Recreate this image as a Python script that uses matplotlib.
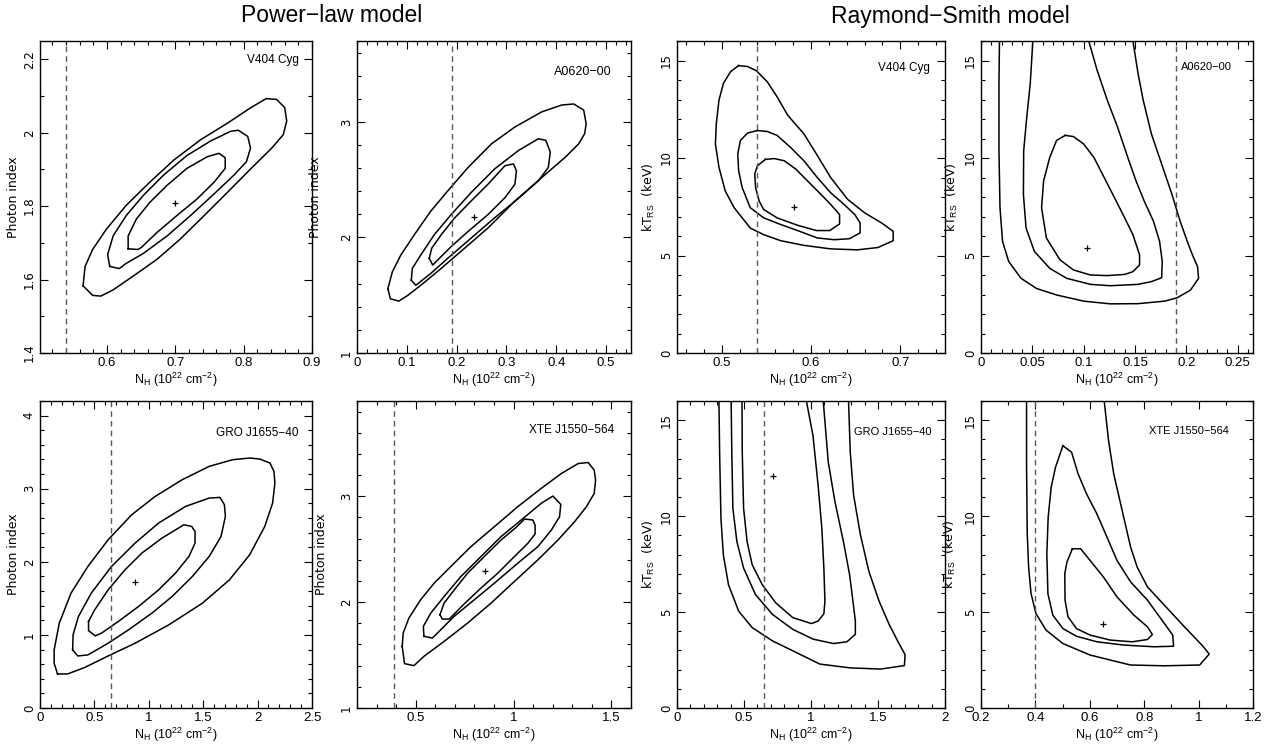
import numpy as np
import matplotlib
matplotlib.use("Agg")
import matplotlib.pyplot as plt
from matplotlib.ticker import MultipleLocator, FuncFormatter

SANS = ["Liberation Sans", "DejaVu Sans"]
plt.rcParams["mathtext.fontset"] = "custom"
plt.rcParams["mathtext.rm"] = "Liberation Sans"
plt.rcParams["mathtext.it"] = "Liberation Sans"

# ---- power-law panels (N_H, photon index) ----
v404_pl_best = (0.70, 1.81)
v404_pl_nh_gal = 0.54
v404_pl_c68_x = [0.631, 0.631, 0.643, 0.663, 0.688, 0.717, 0.747, 0.764, 0.773, 0.773, 0.757, 0.732, 0.702, 0.673, 0.650, 0.645]
v404_pl_c68_y = [1.684, 1.719, 1.765, 1.811, 1.857, 1.903, 1.935, 1.944, 1.932, 1.903, 1.866, 1.820, 1.774, 1.728, 1.687, 1.682]
v404_pl_c90_x = [0.604, 0.601, 0.609, 0.628, 0.653, 0.683, 0.717, 0.752, 0.781, 0.792, 0.806, 0.810, 0.804, 0.786, 0.757, 0.722, 0.688, 0.653, 0.628, 0.618]
v404_pl_c90_y = [1.636, 1.668, 1.719, 1.774, 1.829, 1.885, 1.938, 1.978, 2.004, 2.007, 1.990, 1.958, 1.921, 1.885, 1.834, 1.774, 1.719, 1.671, 1.644, 1.630]
v404_pl_c99_x = [0.565, 0.568, 0.579, 0.599, 0.628, 0.663, 0.698, 0.737, 0.777, 0.811, 0.833, 0.848, 0.860, 0.863, 0.858, 0.841, 0.811, 0.777, 0.742, 0.707, 0.673, 0.638, 0.609, 0.591, 0.579]
v404_pl_c99_y = [1.583, 1.636, 1.682, 1.737, 1.802, 1.866, 1.926, 1.981, 2.027, 2.069, 2.093, 2.091, 2.069, 2.032, 1.995, 1.958, 1.903, 1.839, 1.774, 1.710, 1.655, 1.609, 1.572, 1.555, 1.557]

a0620_pl_best = (0.234, 2.175)
a0620_pl_nh_gal = 0.19
a0620_pl_c68_x = [0.145, 0.150, 0.169, 0.196, 0.229, 0.263, 0.297, 0.314, 0.320, 0.317, 0.297, 0.263, 0.223, 0.189, 0.162, 0.152]
a0620_pl_c68_y = [1.819, 1.907, 2.023, 2.169, 2.315, 2.461, 2.621, 2.636, 2.577, 2.461, 2.344, 2.198, 2.052, 1.921, 1.805, 1.761]
a0620_pl_c90_x = [0.109, 0.111, 0.128, 0.155, 0.189, 0.229, 0.276, 0.324, 0.364, 0.379, 0.388, 0.384, 0.364, 0.324, 0.276, 0.229, 0.182, 0.148, 0.118]
a0620_pl_c90_y = [1.630, 1.732, 1.848, 2.023, 2.198, 2.388, 2.592, 2.752, 2.854, 2.840, 2.738, 2.606, 2.490, 2.338, 2.169, 1.994, 1.819, 1.688, 1.586]
a0620_pl_c99_x = [0.062, 0.071, 0.088, 0.115, 0.148, 0.182, 0.223, 0.270, 0.317, 0.371, 0.411, 0.435, 0.455, 0.460, 0.457, 0.445, 0.418, 0.371, 0.317, 0.263, 0.216, 0.169, 0.128, 0.102, 0.084, 0.067]
a0620_pl_c99_y = [1.557, 1.703, 1.848, 2.023, 2.227, 2.402, 2.606, 2.810, 2.956, 3.087, 3.146, 3.155, 3.102, 2.985, 2.898, 2.810, 2.694, 2.519, 2.315, 2.082, 1.907, 1.732, 1.586, 1.499, 1.449, 1.469]

gro_pl_best = (0.874, 1.717)
gro_pl_nh_gal = 0.65
gro_pl_c68_x = [0.446, 0.502, 0.626, 0.781, 0.936, 1.121, 1.323, 1.394, 1.425, 1.425, 1.369, 1.245, 1.090, 0.905, 0.719, 0.564, 0.508, 0.446]
gro_pl_c68_y = [1.183, 1.342, 1.616, 1.890, 2.119, 2.324, 2.507, 2.484, 2.416, 2.256, 2.073, 1.845, 1.616, 1.388, 1.183, 1.023, 0.986, 1.059]
gro_pl_c90_x = [0.300, 0.304, 0.353, 0.471, 0.657, 0.874, 1.090, 1.338, 1.555, 1.654, 1.695, 1.704, 1.664, 1.555, 1.400, 1.214, 1.028, 0.812, 0.626, 0.440, 0.347]
gro_pl_c90_y = [0.795, 1.000, 1.251, 1.571, 1.936, 2.256, 2.530, 2.758, 2.872, 2.881, 2.781, 2.621, 2.347, 2.073, 1.799, 1.525, 1.297, 1.068, 0.886, 0.726, 0.712]
gro_pl_c99_x = [0.161, 0.254, 0.409, 0.626, 0.874, 1.183, 1.493, 1.741, 1.927, 2.066, 2.138, 2.159, 2.150, 2.113, 2.020, 1.927, 1.772, 1.555, 1.307, 1.059, 0.843, 0.626, 0.440, 0.285, 0.177, 0.130, 0.130]
gro_pl_c99_y = [0.466, 0.466, 0.553, 0.712, 0.886, 1.137, 1.434, 1.753, 2.096, 2.484, 2.804, 3.078, 3.237, 3.352, 3.406, 3.420, 3.397, 3.306, 3.123, 2.895, 2.644, 2.301, 1.936, 1.571, 1.160, 0.795, 0.612]

xte_pl_best = (0.854, 2.295)
xte_pl_nh_gal = 0.39
xte_pl_c68_x = [0.624, 0.645, 0.697, 0.765, 0.850, 0.936, 1.013, 1.056, 1.098, 1.110, 1.110, 1.073, 1.004, 0.919, 0.833, 0.748, 0.671, 0.636]
xte_pl_c68_y = [1.881, 1.991, 2.116, 2.273, 2.430, 2.587, 2.706, 2.785, 2.776, 2.728, 2.644, 2.556, 2.430, 2.273, 2.132, 1.984, 1.840, 1.840]
xte_pl_c90_x = [0.542, 0.539, 0.577, 0.645, 0.731, 0.833, 0.936, 1.039, 1.141, 1.201, 1.241, 1.235, 1.193, 1.124, 1.021, 0.902, 0.799, 0.696, 0.611, 0.585]
xte_pl_c90_y = [1.677, 1.771, 1.896, 2.053, 2.242, 2.430, 2.619, 2.776, 2.933, 3.002, 2.923, 2.807, 2.681, 2.524, 2.367, 2.179, 2.022, 1.865, 1.708, 1.661]
xte_pl_c99_x = [0.431, 0.436, 0.465, 0.525, 0.594, 0.679, 0.782, 0.902, 1.021, 1.141, 1.244, 1.330, 1.381, 1.412, 1.419, 1.412, 1.372, 1.312, 1.227, 1.124, 1.004, 0.885, 0.765, 0.645, 0.542, 0.491, 0.443]
xte_pl_c99_y = [1.582, 1.708, 1.849, 2.022, 2.179, 2.336, 2.524, 2.713, 2.901, 3.074, 3.215, 3.309, 3.319, 3.247, 3.152, 3.027, 2.901, 2.760, 2.587, 2.399, 2.195, 1.991, 1.802, 1.629, 1.488, 1.400, 1.419]

# ---- Raymond-Smith panels (N_H, kT_RS) ----
v404_rs_best = (0.581, 7.5)
v404_rs_nh_gal = 0.54
v404_rs_c68_x = [0.549, 0.540, 0.537, 0.538, 0.542, 0.547, 0.562, 0.585, 0.606, 0.621, 0.632, 0.632, 0.622, 0.611, 0.596, 0.583, 0.570, 0.559]
v404_rs_c68_y = [9.93, 9.60, 9.17, 8.48, 7.79, 7.36, 6.93, 6.55, 6.28, 6.28, 6.62, 7.10, 7.62, 8.14, 8.83, 9.43, 9.86, 9.97]
v404_rs_c90_x = [0.540, 0.529, 0.521, 0.518, 0.519, 0.523, 0.532, 0.547, 0.566, 0.585, 0.607, 0.626, 0.643, 0.655, 0.655, 0.649, 0.637, 0.622, 0.607, 0.592, 0.577, 0.562, 0.551]
v404_rs_c90_y = [11.41, 11.28, 10.90, 10.21, 9.34, 8.48, 7.45, 6.93, 6.59, 6.28, 5.90, 5.81, 5.86, 6.16, 6.67, 7.10, 7.62, 8.22, 9.00, 9.86, 10.55, 11.16, 11.36]
v404_rs_c99_x = [0.519, 0.529, 0.539, 0.551, 0.562, 0.574, 0.592, 0.606, 0.622, 0.641, 0.660, 0.679, 0.692, 0.692, 0.675, 0.652, 0.622, 0.592, 0.566, 0.547, 0.532, 0.514, 0.504, 0.497, 0.493, 0.494, 0.497, 0.502, 0.510]
v404_rs_c99_y = [14.74, 14.69, 14.47, 13.91, 13.14, 12.19, 11.24, 10.21, 9.00, 7.88, 7.19, 6.67, 6.24, 5.76, 5.41, 5.29, 5.34, 5.52, 5.76, 6.07, 6.41, 7.45, 8.31, 9.52, 10.72, 11.76, 12.97, 13.83, 14.43]

a0620_rs_best = (0.103, 5.41)
a0620_rs_nh_gal = 0.19
a0620_rs_c68_x = [0.082, 0.0736, 0.067, 0.061, 0.059, 0.0637, 0.0769, 0.090, 0.1066, 0.123, 0.140, 0.148, 0.1545, 0.1545, 0.148, 0.140, 0.130, 0.120, 0.110, 0.100, 0.090]
a0620_rs_c68_y = [11.16, 10.90, 10.03, 8.83, 7.45, 5.90, 4.78, 4.26, 4.00, 3.97, 4.03, 4.17, 4.52, 5.03, 6.07, 6.93, 7.97, 9.00, 10.03, 10.72, 11.10]
a0620_rs_c90_x = [0.0505, 0.048, 0.0446, 0.0416, 0.0413, 0.0439, 0.052, 0.067, 0.0835, 0.1066, 0.126, 0.153, 0.166, 0.176, 0.1766, 0.174, 0.168, 0.159, 0.151, 0.143, 0.133, 0.123, 0.113, 0.105]
a0620_rs_c90_y = [16.0, 13.83, 12.10, 10.38, 8.14, 6.41, 5.21, 4.34, 3.83, 3.52, 3.45, 3.52, 3.66, 3.86, 4.69, 5.72, 6.76, 7.79, 8.83, 10.03, 11.59, 12.97, 14.52, 16.0]
a0620_rs_c99_x = [0.018, 0.0175, 0.0175, 0.0185, 0.021, 0.027, 0.039, 0.054, 0.074, 0.100, 0.126, 0.153, 0.179, 0.191, 0.204, 0.212, 0.211, 0.206, 0.201, 0.194, 0.186, 0.176, 0.166, 0.158, 0.153, 0.148]
a0620_rs_c99_y = [16.0, 13.83, 10.38, 7.45, 5.72, 4.69, 3.83, 3.31, 2.97, 2.66, 2.52, 2.53, 2.66, 2.83, 3.22, 3.83, 4.43, 5.03, 5.72, 6.76, 8.14, 9.69, 11.24, 12.97, 14.34, 16.0]

gro_rs_best = (0.717, 12.09)
gro_rs_nh_gal = 0.65
gro_rs_c68_x = [0.485, 0.487, 0.497, 0.523, 0.561, 0.636, 0.737, 0.864, 1.003, 1.053, 1.096, 1.104, 1.096, 1.081, 1.053, 1.015, 0.965]
gro_rs_c68_y = [16.03, 13.33, 10.40, 8.67, 7.47, 6.43, 5.48, 4.71, 4.40, 4.53, 4.91, 5.57, 7.29, 9.36, 11.60, 14.19, 16.03]
gro_rs_c90_x = [0.404, 0.409, 0.417, 0.447, 0.497, 0.586, 0.712, 0.864, 1.015, 1.167, 1.268, 1.331, 1.331, 1.313, 1.288, 1.242, 1.179, 1.129, 1.091]
gro_rs_c90_y = [16.03, 13.33, 10.40, 8.67, 7.29, 5.91, 4.88, 4.10, 3.59, 3.36, 3.45, 3.84, 4.53, 5.57, 6.95, 8.67, 10.74, 12.81, 16.03]
gro_rs_c99_x = [0.313, 0.318, 0.328, 0.346, 0.384, 0.460, 0.561, 0.712, 0.914, 1.066, 1.293, 1.520, 1.697, 1.702, 1.646, 1.583, 1.508, 1.432, 1.369, 1.318, 1.293, 1.280]
gro_rs_c99_y = [16.03, 13.33, 9.88, 7.98, 6.43, 5.05, 4.19, 3.50, 2.81, 2.29, 2.09, 2.03, 2.21, 2.78, 3.50, 4.36, 5.57, 7.12, 9.02, 11.09, 13.33, 16.03]

xte_rs_best = (0.648, 4.37)
xte_rs_nh_gal = 0.40
xte_rs_c68_x = [0.536, 0.566, 0.601, 0.650, 0.700, 0.762, 0.812, 0.830, 0.812, 0.756, 0.675, 0.601, 0.551, 0.520, 0.509, 0.508, 0.516]
xte_rs_c68_y = [8.30, 8.30, 7.69, 6.83, 5.79, 4.84, 4.23, 3.83, 3.57, 3.45, 3.54, 3.80, 4.14, 4.75, 5.62, 7.00, 7.61]
xte_rs_c90_x = [0.501, 0.533, 0.557, 0.588, 0.626, 0.663, 0.700, 0.750, 0.812, 0.861, 0.905, 0.908, 0.836, 0.725, 0.626, 0.551, 0.501, 0.464, 0.446, 0.442, 0.447, 0.458, 0.474]
xte_rs_c90_y = [13.67, 13.33, 12.20, 11.16, 10.12, 8.91, 7.69, 6.57, 5.62, 4.66, 3.80, 3.22, 3.19, 3.28, 3.45, 3.74, 4.14, 4.84, 5.96, 8.04, 9.95, 11.51, 12.55]
xte_rs_c99_x = [0.3675, 0.3675, 0.370, 0.375, 0.384, 0.402, 0.439, 0.501, 0.601, 0.675, 0.750, 0.874, 1.004, 1.039, 1.016, 0.948, 0.874, 0.812, 0.774, 0.750, 0.719, 0.688, 0.669, 0.653]
xte_rs_c99_y = [16.0, 12.55, 9.08, 7.35, 5.96, 4.92, 4.06, 3.36, 2.76, 2.50, 2.24, 2.20, 2.24, 2.81, 3.22, 4.23, 5.36, 6.31, 7.35, 8.39, 10.29, 12.20, 13.93, 16.0]

names = ["V404 Cyg", "A0620\u221200", "V404 Cyg", "A0620\u221200",
         "GRO J1655\u221240", "XTE J1550\u2212564", "GRO J1655\u221240", "XTE J1550\u2212564"]

panels = [
    dict(c=(v404_pl_c68_x, v404_pl_c68_y, v404_pl_c90_x, v404_pl_c90_y, v404_pl_c99_x, v404_pl_c99_y),
         best=v404_pl_best, gal=v404_pl_nh_gal, closed=True,
         xlim=(0.502, 0.9), ylim=(1.4, 2.25), xmaj=0.1, xmin=0.02, ymaj=0.2, ymin=0.1,
         pos=(40, 41, 312, 353), lab=(13, 19, 8.5), ylx=-20),
    dict(c=(a0620_pl_c68_x, a0620_pl_c68_y, a0620_pl_c90_x, a0620_pl_c90_y, a0620_pl_c99_x, a0620_pl_c99_y),
         best=a0620_pl_best, gal=a0620_pl_nh_gal, closed=True,
         xlim=(0, 0.55), ylim=(1.0, 3.7), xmaj=0.1, xmin=0.02, ymaj=1, ymin=0.2,
         pos=(357, 41, 631, 353), lab=(19, 31, 9), ylx=-35),
    dict(c=(v404_rs_c68_x, v404_rs_c68_y, v404_rs_c90_x, v404_rs_c90_y, v404_rs_c99_x, v404_rs_c99_y),
         best=v404_rs_best, gal=v404_rs_nh_gal, closed=True,
         xlim=(0.45, 0.75), ylim=(0, 16), xmaj=0.1, xmin=0.02, ymaj=5, ymin=1,
         pos=(677, 41, 945, 353), lab=(15, 27, 8.5), ylx=-20),
    dict(c=(a0620_rs_c68_x, a0620_rs_c68_y, a0620_rs_c90_x, a0620_rs_c90_y, a0620_rs_c99_x, a0620_rs_c99_y),
         best=a0620_rs_best, gal=a0620_rs_nh_gal, closed=(True, False, False),
         xlim=(0, 0.265), ylim=(0, 16), xmaj=0.05, xmin=0.01, ymaj=5, ymin=1,
         pos=(981, 41, 1253, 353), lab=(21, 26, 8), ylx=-21),
    dict(c=(gro_pl_c68_x, gro_pl_c68_y, gro_pl_c90_x, gro_pl_c90_y, gro_pl_c99_x, gro_pl_c99_y),
         best=gro_pl_best, gal=gro_pl_nh_gal, closed=True,
         xlim=(0, 2.5), ylim=(0, 4.2), xmaj=0.5, xmin=0.1, ymaj=1, ymin=0.2,
         pos=(40, 401, 312, 708), lab=(13, 32, 8.5), ylx=-20),
    dict(c=(xte_pl_c68_x, xte_pl_c68_y, xte_pl_c90_x, xte_pl_c90_y, xte_pl_c99_x, xte_pl_c99_y),
         best=xte_pl_best, gal=xte_pl_nh_gal, closed=True,
         xlim=(0.2, 1.6), ylim=(1.0, 3.9), xmaj=0.5, xmin=0.1, ymaj=1, ymin=0.2,
         pos=(357, 401, 631, 708), lab=(17, 29, 8.5), ylx=-29),
    dict(c=(gro_rs_c68_x, gro_rs_c68_y, gro_rs_c90_x, gro_rs_c90_y, gro_rs_c99_x, gro_rs_c99_y),
         best=gro_rs_best, gal=gro_rs_nh_gal, closed=False,
         xlim=(0, 2), ylim=(0, 16), xmaj=0.5, xmin=0.1, ymaj=5, ymin=1,
         pos=(677, 401, 945, 708), lab=(14, 31, 8), ylx=-20),
    dict(c=(xte_rs_c68_x, xte_rs_c68_y, xte_rs_c90_x, xte_rs_c90_y, xte_rs_c99_x, xte_rs_c99_y),
         best=xte_rs_best, gal=xte_rs_nh_gal, closed=(True, True, False),
         xlim=(0.2, 1.2), ylim=(0, 16), xmaj=0.2, xmin=0.1, ymaj=5, ymin=1,
         pos=(981, 401, 1253, 708), lab=(24, 30, 8), ylx=-23),
]

W, H = 1267, 748
fig = plt.figure(figsize=(W / 100, H / 100), dpi=100)
fmt = FuncFormatter(lambda v, pos: "%g" % round(v, 3))

for i, p in enumerate(panels):
    x0, y0, x1, y1 = p["pos"]
    ax = fig.add_axes([x0 / W, (H - y1) / H, (x1 - x0) / W, (y1 - y0) / H])
    closed = p["closed"]
    if not isinstance(closed, tuple):
        closed = (closed,) * 3
    for k in range(3):
        xs = list(p["c"][2 * k])
        ys = list(p["c"][2 * k + 1])
        if closed[k]:
            xs.append(xs[0])
            ys.append(ys[0])
        ax.plot(xs, ys, color="black", lw=1.1, solid_joinstyle="round")
    ax.plot(*p["best"], marker="+", color="black", ms=5, mew=0.9)
    ax.axvline(p["gal"], color="0.35", lw=1.0, ls=(0, (4, 3)))

    ax.set_xlim(*p["xlim"])
    ax.set_ylim(*p["ylim"])
    ax.xaxis.set_major_locator(MultipleLocator(p["xmaj"]))
    ax.xaxis.set_minor_locator(MultipleLocator(p["xmin"]))
    ax.yaxis.set_major_locator(MultipleLocator(p["ymaj"]))
    ax.yaxis.set_minor_locator(MultipleLocator(p["ymin"]))
    ax.tick_params(which="both", direction="in", top=True, right=True, width=0.8)
    ax.tick_params(which="major", length=6)
    ax.tick_params(which="minor", length=3)
    ax.tick_params(axis="x", pad=3)
    ax.tick_params(axis="y", pad=3)
    for s in ax.spines.values():
        s.set_linewidth(1.0)

    ax.xaxis.set_major_formatter(fmt)
    ax.yaxis.set_major_formatter(fmt)
    for t in ax.get_xticklabels():
        t.set_family(SANS)
        t.set_fontsize(9.5)
    for t in ax.get_yticklabels():
        t.set_rotation(90)
        t.set_va("center")
        t.set_fontsize(8.5)

    ax.set_xlabel("N$_{\\rm H}$ (10$^{22}$ cm$^{-2}$)", family=SANS, fontsize=9, labelpad=1)
    if i in (0, 1, 4, 5):
        ax.set_ylabel("Photon index", fontsize=9)
    else:
        ax.set_ylabel("kT$_{\\rm RS}$  (keV)", fontsize=9)
    ax.yaxis.set_label_coords(p["ylx"] / (x1 - x0), 0.5)

    dx, dy, fs = p["lab"]
    ax.text(1 - dx / (x1 - x0), 1 - dy / (y1 - y0), names[i], transform=ax.transAxes,
            ha="right", va="center", family=SANS, fontsize=fs)

fig.text(332 / W, 1 - 16 / H, "Power\u2212law model", ha="center", va="center", family=SANS, fontsize=16.5)
fig.text(950 / W, 1 - 16 / H, "Raymond\u2212Smith model", ha="center", va="center", family=SANS, fontsize=16.5)

fig.savefig("out.png", dpi=100)
